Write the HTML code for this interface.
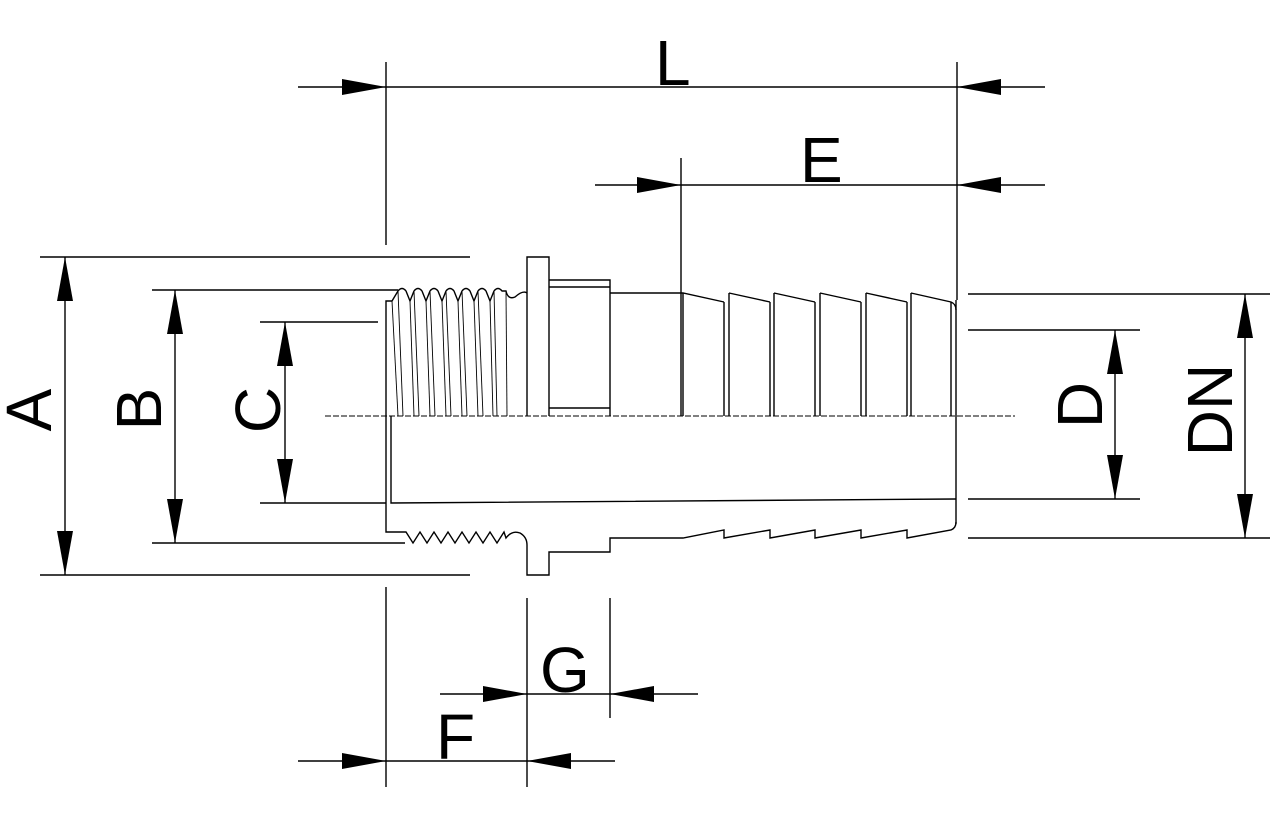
<!DOCTYPE html>
<html><head><meta charset="utf-8"><style>
html,body{margin:0;padding:0;background:#fff;}
svg{display:block}
text{font-family:"Liberation Sans",sans-serif;font-size:64px;fill:#000}
</style></head><body>
<svg width="1280" height="813" viewBox="0 0 1280 813" xmlns="http://www.w3.org/2000/svg">
<defs>
<marker id="a" viewBox="0 0 44 16" refX="44" refY="8" markerWidth="44" markerHeight="16" markerUnits="userSpaceOnUse" orient="auto"><path d="M0,0 L44,8 L0,16 Z" fill="#000"/></marker>
</defs>
<g stroke="#000" stroke-width="1.4" fill="none">
<line x1="386" y1="62" x2="386" y2="245"/>
<line x1="957" y1="62" x2="957" y2="300"/>
<line x1="681" y1="158" x2="681" y2="416"/>
<line x1="40" y1="257" x2="470" y2="257"/>
<line x1="40" y1="575" x2="470" y2="575"/>
<line x1="152" y1="290" x2="398" y2="290"/>
<line x1="152" y1="543" x2="405" y2="543"/>
<line x1="260" y1="322" x2="378" y2="322"/>
<line x1="260" y1="503" x2="386" y2="503"/>
<line x1="968" y1="294" x2="1270" y2="294"/>
<line x1="968" y1="538" x2="1270" y2="538"/>
<line x1="968" y1="330" x2="1140" y2="330"/>
<line x1="968" y1="499" x2="1140" y2="499"/>
<line x1="386" y1="587" x2="386" y2="787"/>
<line x1="527" y1="598" x2="527" y2="787"/>
<line x1="610" y1="598" x2="610" y2="718"/>
<line x1="386" y1="87" x2="957" y2="87"/>
<line x1="298" y1="87" x2="386" y2="87" marker-end="url(#a)"/>
<line x1="1045" y1="87" x2="957" y2="87" marker-end="url(#a)"/>
<line x1="681" y1="185" x2="957" y2="185"/>
<line x1="595" y1="185" x2="681" y2="185" marker-end="url(#a)"/>
<line x1="1045" y1="185" x2="957" y2="185" marker-end="url(#a)"/>
<line x1="65" y1="416" x2="65" y2="257" marker-end="url(#a)"/>
<line x1="65" y1="416" x2="65" y2="575" marker-end="url(#a)"/>
<line x1="175" y1="416" x2="175" y2="290" marker-end="url(#a)"/>
<line x1="175" y1="416" x2="175" y2="543" marker-end="url(#a)"/>
<line x1="285" y1="412" x2="285" y2="322" marker-end="url(#a)"/>
<line x1="285" y1="412" x2="285" y2="503" marker-end="url(#a)"/>
<line x1="1115" y1="414" x2="1115" y2="330" marker-end="url(#a)"/>
<line x1="1115" y1="414" x2="1115" y2="499" marker-end="url(#a)"/>
<line x1="1245" y1="416" x2="1245" y2="294" marker-end="url(#a)"/>
<line x1="1245" y1="416" x2="1245" y2="538" marker-end="url(#a)"/>
<line x1="527" y1="694" x2="610" y2="694"/>
<line x1="440" y1="694" x2="527" y2="694" marker-end="url(#a)"/>
<line x1="698" y1="694" x2="610" y2="694" marker-end="url(#a)"/>
<line x1="386" y1="761" x2="527" y2="761"/>
<line x1="298" y1="761" x2="386" y2="761" marker-end="url(#a)"/>
<line x1="615" y1="761" x2="527" y2="761" marker-end="url(#a)"/>
<line x1="325" y1="416" x2="1015" y2="416" stroke-dasharray="6,2" stroke-width="1"/>
<path d="M386,416 V301 H392 L398,291"/>
<path d="M398,291 Q402,286 406,291 L410,301 L414,291 Q418,286 422,291 L426,301 L430,291 Q434,286 438,291 L442,301 L446,291 Q450,286 454,291 L458,301 L462,291 Q466,286 470,291 L474,301 L478,291 Q482,286 486,291 L490,301 L494,291 Q498,286 502,291 L506,291 Q508,300 515,297 Q523,290 527,293"/>
<g stroke-width="0.9">
<line x1="392" y1="301" x2="398" y2="416"/><line x1="398" y1="291" x2="403" y2="416"/>
<line x1="410" y1="301" x2="414" y2="416"/><line x1="414" y1="291" x2="419" y2="416"/>
<line x1="426" y1="301" x2="430" y2="416"/><line x1="430" y1="291" x2="435" y2="416"/>
<line x1="442" y1="301" x2="446" y2="416"/><line x1="446" y1="291" x2="451" y2="416"/>
<line x1="458" y1="301" x2="462" y2="416"/><line x1="462" y1="291" x2="467" y2="416"/>
<line x1="474" y1="301" x2="478" y2="416"/><line x1="478" y1="291" x2="483" y2="416"/>
<line x1="490" y1="301" x2="493" y2="416"/><line x1="494" y1="291" x2="497" y2="416"/>
<line x1="506" y1="291" x2="507" y2="416"/>
</g>
<path d="M527,416 V257 H549 V416"/>
<path d="M549,280 H610 V416"/><line x1="549" y1="287" x2="610" y2="287"/><line x1="549" y1="408" x2="610" y2="408"/>
<path d="M610,293 H683 L724,302 M729,293 L770,302 M774,293 L815,302 M820,293 L861,302 M866,293 L907,302 M911,293 L951,302 Q956,304 956,310"/>
<line x1="683" y1="293" x2="683" y2="416"/>
<path d="M724,302 V416 M729,293 V416 M770,302 V416 M774,293 V416 M815,302 V416 M820,293 V416 M861,302 V416 M866,293 V416 M907,302 V416 M911,293 V416 M951,302 V416 M956,300 V524"/>
<path d="M391,416 V503 L956,499"/>
<path d="M386,416 V532 H406 L413,543 L420,532 L427,543 L434,532 L441,543 L448,532 L455,543 L462,532 L469,543 L476,532 L483,543 L490,532 L497,543 L504,532 L506,538 Q512,530 520,533 Q527,537 527,545 V575 H549 V552 H610 V538 H683 L724,530 V538 L770,530 V538 L815,530 V538 L861,530 V538 L907,530 V538 L951,530 Q956,528 956,522"/>
</g>
<text x="655" y="85" font-size="60">L</text>
<text x="800" y="182" font-size="60">E</text>
<text x="540" y="692" font-size="60">G</text>
<text x="436" y="759" font-size="60">F</text>
<text transform="translate(51,410) rotate(-90)" text-anchor="middle">A</text>
<text transform="translate(161,409) rotate(-90)" text-anchor="middle">B</text>
<text transform="translate(280,410) rotate(-90)" text-anchor="middle">C</text>
<text transform="translate(1102,405) rotate(-90)" text-anchor="middle">D</text>
<text transform="translate(1232,410) rotate(-90)" text-anchor="middle">DN</text>
</svg>
</body></html>
